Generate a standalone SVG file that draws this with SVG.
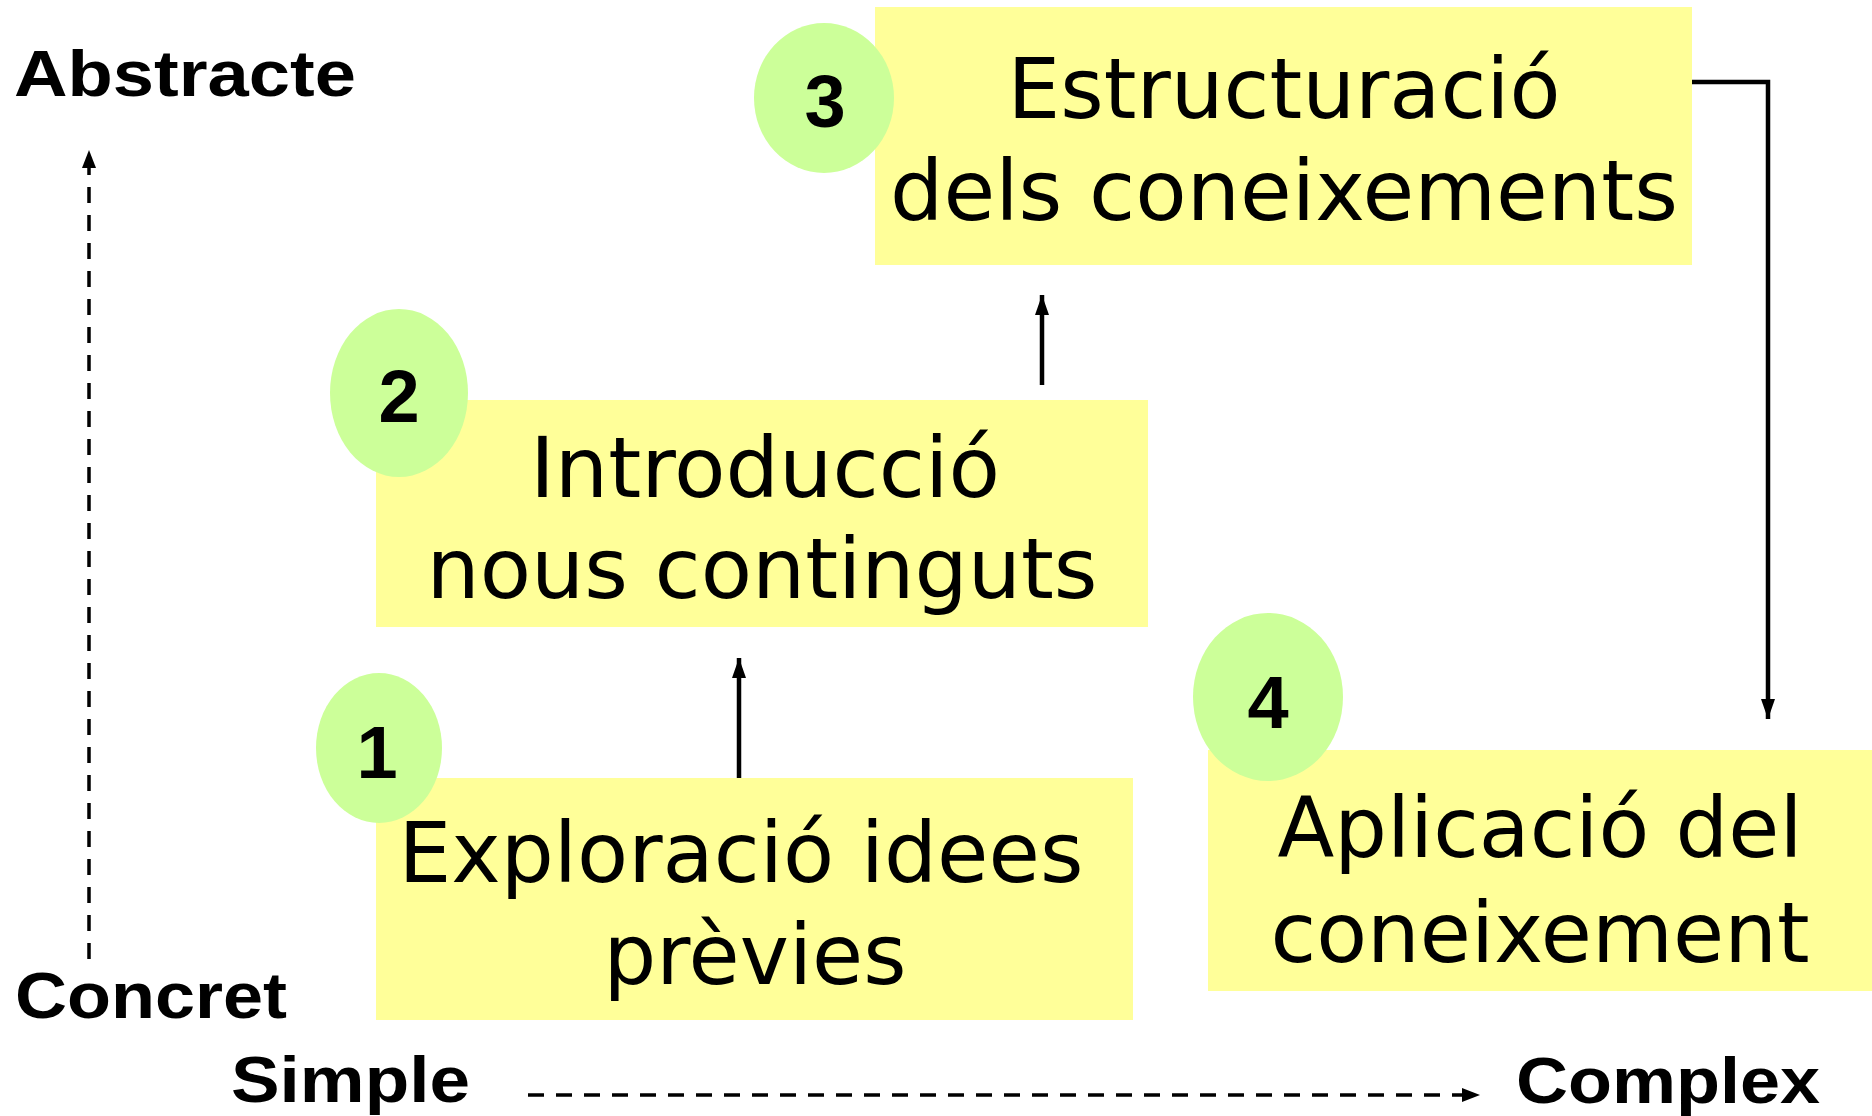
<svg xmlns="http://www.w3.org/2000/svg" width="1872" height="1116" viewBox="0 0 1872 1116">
<style>
.box{fill:#FFFF99}
.num-bg{fill:#CCFF99}
.main{font-family:"DejaVu Sans","Verdana",sans-serif;font-size:84px;fill:#000;text-anchor:middle}
.num{font-family:"Liberation Sans","Arial",sans-serif;font-weight:bold;font-size:74px;fill:#000;text-anchor:middle}
.axis{font-family:"Liberation Sans","Arial",sans-serif;font-weight:bold;font-size:64px;fill:#000}
.conn{fill:none;stroke:#000;stroke-width:4.5}
.dash{fill:none;stroke:#000;stroke-width:3.5;stroke-dasharray:16 12}
</style>
<defs>
<marker id="ah" viewBox="0 0 18 14" refX="18" refY="7" markerWidth="18" markerHeight="14" markerUnits="userSpaceOnUse" orient="auto">
<path d="M0,0 L18,7 L0,14 z" fill="#000"/>
</marker>
<marker id="ahs" viewBox="0 0 20 14" refX="20" refY="7" markerWidth="20" markerHeight="14" markerUnits="userSpaceOnUse" orient="auto">
<path d="M0,0 L20,7 L0,14 z" fill="#000"/>
</marker>
</defs>
<rect width="1872" height="1116" fill="#fff"/>

<g id="axes">
<path class="dash" d="M89,959 V150" marker-end="url(#ah)"/>
<path class="dash" d="M528,1095 H1480" marker-end="url(#ah)"/>
<text class="axis" x="14" y="96" textLength="342" lengthAdjust="spacingAndGlyphs">Abstracte</text>
<text class="axis" x="15" y="1018" textLength="272" lengthAdjust="spacingAndGlyphs">Concret</text>
<text class="axis" x="231" y="1102" textLength="239" lengthAdjust="spacingAndGlyphs">Simple</text>
<text class="axis" x="1516" y="1103" textLength="304" lengthAdjust="spacingAndGlyphs">Complex</text>
</g>

<g id="connectors">
<path class="conn" d="M739,778 V658" marker-end="url(#ahs)"/>
<path class="conn" d="M1042,385 V295" marker-end="url(#ahs)"/>
<path class="conn" d="M1692,82 H1768 V719" marker-end="url(#ahs)"/>
</g>

<g id="node1">
<rect class="box" x="376" y="778" width="757" height="242"/>
<ellipse class="num-bg" cx="379" cy="748" rx="63" ry="75"/>
<text class="num" x="377" y="778">1</text>
<text class="main" x="741" y="882" textLength="685" lengthAdjust="spacingAndGlyphs">Exploració idees</text>
<text class="main" x="755" y="984" textLength="303" lengthAdjust="spacingAndGlyphs">prèvies</text>
</g>

<g id="node2">
<rect class="box" x="376" y="400" width="772" height="227"/>
<ellipse class="num-bg" cx="399" cy="393" rx="69" ry="84"/>
<text class="num" x="399" y="422">2</text>
<text class="main" x="765" y="497" textLength="470" lengthAdjust="spacingAndGlyphs">Introducció</text>
<text class="main" x="762" y="598" textLength="671" lengthAdjust="spacingAndGlyphs">nous continguts</text>
</g>

<g id="node3">
<rect class="box" x="875" y="7" width="817" height="258"/>
<ellipse class="num-bg" cx="824" cy="98" rx="70" ry="75"/>
<text class="num" x="825" y="127">3</text>
<text class="main" x="1284" y="118" textLength="553" lengthAdjust="spacingAndGlyphs">Estructuració</text>
<text class="main" x="1284" y="220" textLength="788" lengthAdjust="spacingAndGlyphs">dels coneixements</text>
</g>

<g id="node4">
<rect class="box" x="1208" y="750" width="664" height="241"/>
<ellipse class="num-bg" cx="1268" cy="697" rx="75" ry="84"/>
<text class="num" x="1268" y="728">4</text>
<text class="main" x="1540" y="857" textLength="525" lengthAdjust="spacingAndGlyphs">Aplicació del</text>
<text class="main" x="1540" y="962" textLength="539" lengthAdjust="spacingAndGlyphs">coneixement</text>
</g>
</svg>
